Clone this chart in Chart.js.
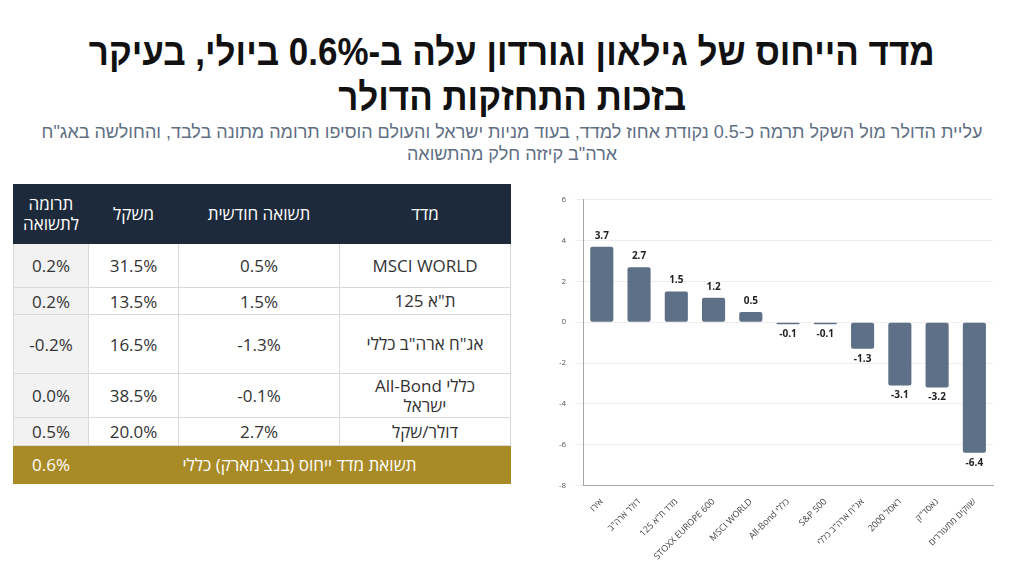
<!DOCTYPE html>
<html lang="he">
<head>
<meta charset="utf-8">
<script src="https://cdn.jsdelivr.net/npm/chart.js@4/dist/chart.umd.min.js"></script>
<style>
  html, body { margin: 0; padding: 0; background: #fff; }
  body { width: 1024px; height: 576px; position: relative; overflow: hidden; font-family: "Liberation Sans", "DejaVu Sans", sans-serif; }
  .title {
    position: absolute; left: 0; top: 30px; width: 1024px; text-align: center; direction: rtl;
    font-family: "Liberation Sans", sans-serif; font-weight: bold;
    font-size: 38px; line-height: 45px; color: #111;
  }
  .title span { display: inline-block; transform: scaleX(0.92); }
  .subtitle {
    position: absolute; left: 0; top: 121px; width: 1024px; text-align: center; direction: rtl;
    font-family: "Liberation Sans", sans-serif;
    font-size: 18px; line-height: 22px; color: #5f6f84;
  }
  table {
    position: absolute; left: 13px; top: 184px; border-collapse: collapse; direction: rtl;
    table-layout: fixed;
    font-family: "Open Sans", "Liberation Sans", sans-serif; font-size: 17px; color: #333;
  }
  td, th { border: 1px solid #d9d9d9; text-align: center; padding: 0; }
  th { background: #1d2a3b; color: #fff; font-weight: normal; border-color: #1d2a3b; line-height: 20px; font-size: 17px; }
  td.c { background: #f2f2f2; }
  tr.total td { background: #a88a26; color: #fff; border-color: #a88a26; }
  tr.total td.c { border-left-color: #a88a26; border-right-color: #8f7520; }
  td.n { line-height: 20px; }
  #chartBox { position: absolute; left: 550px; top: 186px; width: 455px; height: 379px; }
</style>
</head>
<body>
<div class="title"><span>מדד הייחוס של גילאון וגורדון עלה ב-0.6% ביולי, בעיקר</span><br><span>בזכות התחזקות הדולר</span></div>
<div class="subtitle">עליית הדולר מול השקל תרמה כ-0.5 נקודת אחוז למדד, בעוד מניות ישראל והעולם הוסיפו תרומה מתונה בלבד, והחולשה באג"ח<br>ארה"ב קיזזה חלק מהתשואה</div>

<table id="tbl"></table>

<div id="chartBox"><canvas id="barChart"></canvas></div>

<script>
// table data
const tableHeaders = ['מדד', 'תשואה חודשית', 'משקל', 'תרומה<br>לתשואה'];
const tableIndices = ['MSCI WORLD', 'ת"א 125', 'אג"ח ארה"ב כללי', 'כללי All-Bond<br>ישראל', 'דולר/שקל'];
const tableReturns = ['0.5%', '1.5%', '-1.3%', '-0.1%', '2.7%'];
const tableWeights = ['31.5%', '13.5%', '16.5%', '38.5%', '20.0%'];
const tableContrib = ['0.2%', '0.2%', '-0.2%', '0.0%', '0.5%'];
const totalLabel = 'תשואת מדד ייחוס (בנצ\'מארק) כללי';
const totalValue = '0.6%';

// chart data
const categories = ['אירו', 'דולר ארה"ב', 'מדד ת"א 125', 'STOXX EUROPE 600', 'MSCI WORLD', 'כללי All-Bond', 'S&P 500', 'אג"ח ארה"ב כללי', 'ראסל 2000', 'נאסד"ק', 'שווקים מתעוררים'];
const returns = [3.7, 2.7, 1.5, 1.2, 0.5, -0.1, -0.1, -1.3, -3.1, -3.2, -6.4];
const yTicks = [6, 4, 2, 0, -2, -4, -6, -8];

// build table
const rowHeights = [59, 44, 27, 59, 44, 28];
const tbl = document.getElementById('tbl');
let html = '<colgroup><col style="width:171px"><col style="width:161px"><col style="width:90px"><col style="width:75px"></colgroup>';
html += '<tr style="height:' + rowHeights[0] + 'px">';
tableHeaders.forEach(h => { html += '<th>' + h + '</th>'; });
html += '</tr>';
tableIndices.forEach((name, i) => {
    html += '<tr style="height:' + rowHeights[i + 1] + 'px">';
    html += '<td class="n">' + name + '</td>';
    html += '<td dir="ltr">' + tableReturns[i] + '</td>';
    html += '<td dir="ltr">' + tableWeights[i] + '</td>';
    html += '<td class="c" dir="ltr">' + tableContrib[i] + '</td></tr>';
});
html += '<tr class="total" style="height:38px"><td colspan="3">' + totalLabel + '</td><td class="c" dir="ltr">' + totalValue + '</td></tr>';
tbl.innerHTML = html;

// value labels over / under each bar
const valueLabels = {
    id: 'valueLabels',
    afterDatasetsDraw(chart) {
        const ctx = chart.ctx;
        const meta = chart.getDatasetMeta(0);
        ctx.save();
        ctx.font = 'bold 10px "Open Sans", "Liberation Sans", sans-serif';
        ctx.fillStyle = '#222';
        ctx.textAlign = 'center';
        meta.data.forEach((bar, i) => {
            const v = returns[i];
            if (v >= 0) {
                ctx.textBaseline = 'bottom';
                ctx.fillText(v.toFixed(1), bar.x, bar.y - 6);
            } else {
                ctx.textBaseline = 'top';
                ctx.fillText(v.toFixed(1), bar.x, bar.y + 5);
            }
        });
        ctx.restore();
    }
};

const ctxBar = document.getElementById('barChart').getContext('2d');
new Chart(ctxBar, {
    type: 'bar',
    data: {
        labels: categories,
        datasets: [{
            data: returns,
            backgroundColor: '#5d7087',
            borderRadius: 2,
            borderSkipped: false,
            barPercentage: 0.62,
            categoryPercentage: 1.0
        }]
    },
    options: {
        responsive: true,
        maintainAspectRatio: false,
        animation: false,
        layout: { padding: { top: 6, right: 12 } },
        plugins: {
            legend: { display: false },
            tooltip: { enabled: false }
        },
        scales: {
            x: {
                grid: { display: false },
                border: { color: '#a6a6a6' },
                ticks: {
                    minRotation: 45,
                    maxRotation: 45,
                    color: '#444',
                    font: { size: 9, family: '"Open Sans", "Liberation Sans", sans-serif' },
                    callback: function (value) {
                        return '\u202B' + this.getLabelForValue(value) + '\u202C';
                    }
                }
            },
            y: {
                min: yTicks[yTicks.length - 1],
                max: yTicks[0],
                afterBuildTicks: axis => { axis.ticks = yTicks.map(v => ({ value: v })); },
                grid: { color: '#eeeeee' },
                border: { color: '#a6a6a6' },
                ticks: {
                    color: '#555',
                    padding: 9,
                    font: { size: 8, family: '"Open Sans", "Liberation Sans", sans-serif' }
                }
            }
        }
    },
    plugins: [valueLabels]
});
</script>
</body>
</html>
